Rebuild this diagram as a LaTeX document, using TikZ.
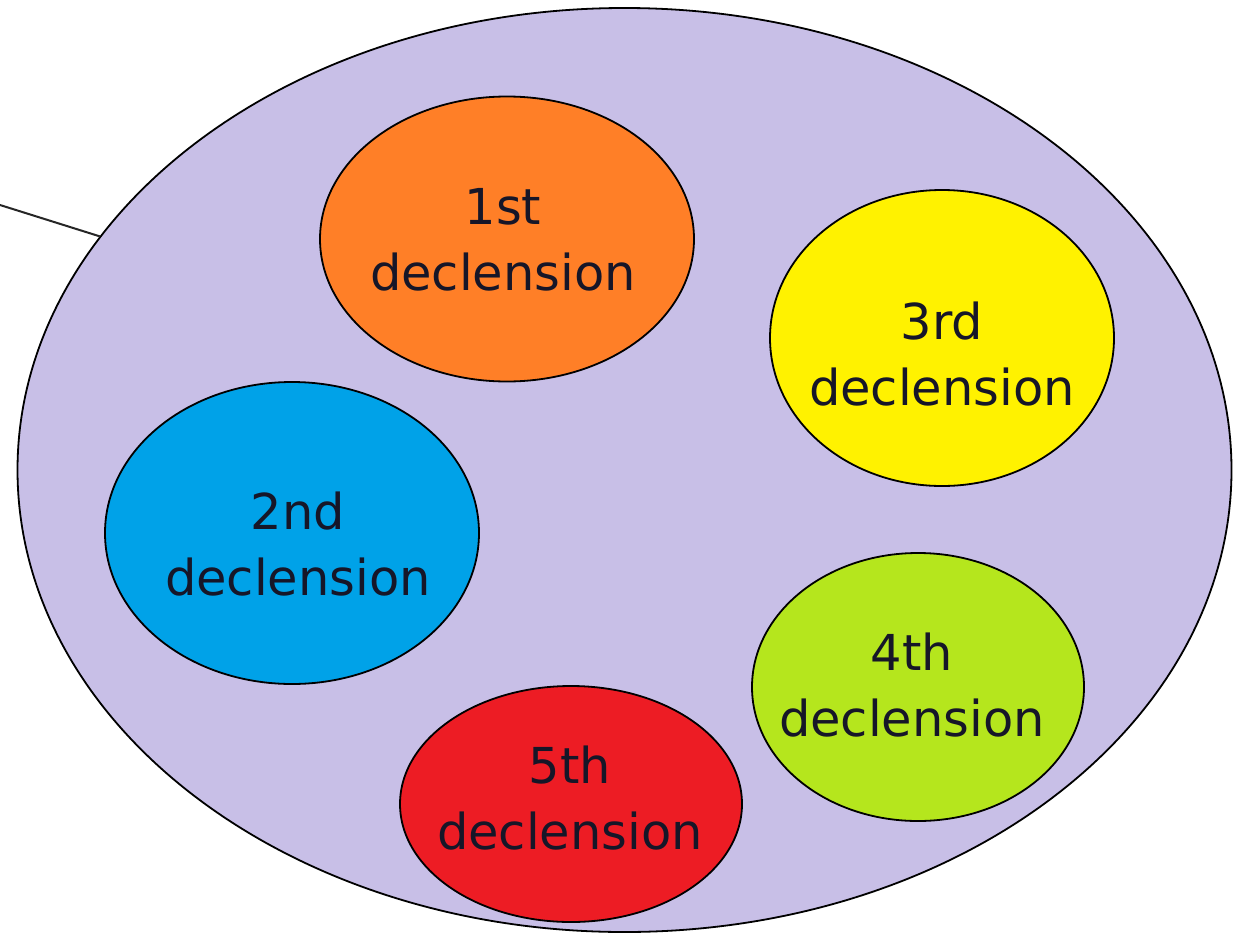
\documentclass[tikz,border=0pt]{standalone}
\usepackage{fontspec}
\setmainfont{DejaVu Sans}
\usetikzlibrary{shapes.geometric}
\definecolor{lav}{RGB}{200,191,231}
\definecolor{orng}{RGB}{255,127,39}
\definecolor{yel}{RGB}{255,242,0}
\definecolor{blu}{RGB}{0,162,232}
\definecolor{lim}{RGB}{181,230,29}
\definecolor{rd}{RGB}{237,28,36}
\definecolor{txt}{RGB}{22,22,40}
\tikzset{
  decl/.style={ellipse, draw=black, line width=1.8pt, inner sep=0pt},
  lbl/.style={align=center, text=txt, font=\fontsize{49.5}{66}\selectfont, inner sep=0pt},
}
\begin{document}
\begin{tikzpicture}[x=1pt,y=-1pt]
\useasboundingbox (0,0) rectangle (1233,934);
\node[decl, fill=lav, minimum width=1214pt, minimum height=924pt] (big) at (624.5,470) {};
\coordinate (lstart) at (0,205);
\draw[line width=2pt, black!85] (lstart) -- (big.156.4);
\node[decl, fill=orng, minimum width=374pt, minimum height=285pt] (e1) at (507,239) {};
\node[decl, fill=yel, minimum width=344pt, minimum height=296pt] (e3) at (942,338) {};
\node[decl, fill=blu, minimum width=374pt, minimum height=302pt] (e2) at (292,533) {};
\node[decl, fill=lim, minimum width=332pt, minimum height=268pt] (e4) at (918,687) {};
\node[decl, fill=rd, minimum width=342pt, minimum height=236pt] (e5) at (571,804) {};
\node[lbl] (t1) at (503,240) {1st\\declension};
\node[lbl] (t3) at (942,354) {3rd\\declension};
\node[lbl] (t2) at (298,544) {2nd\\declension};
\node[lbl] (t4) at (912,685) {4th\\declension};
\node[lbl] (t5) at (570,798) {5th\\declension};
\end{tikzpicture}
\end{document}
